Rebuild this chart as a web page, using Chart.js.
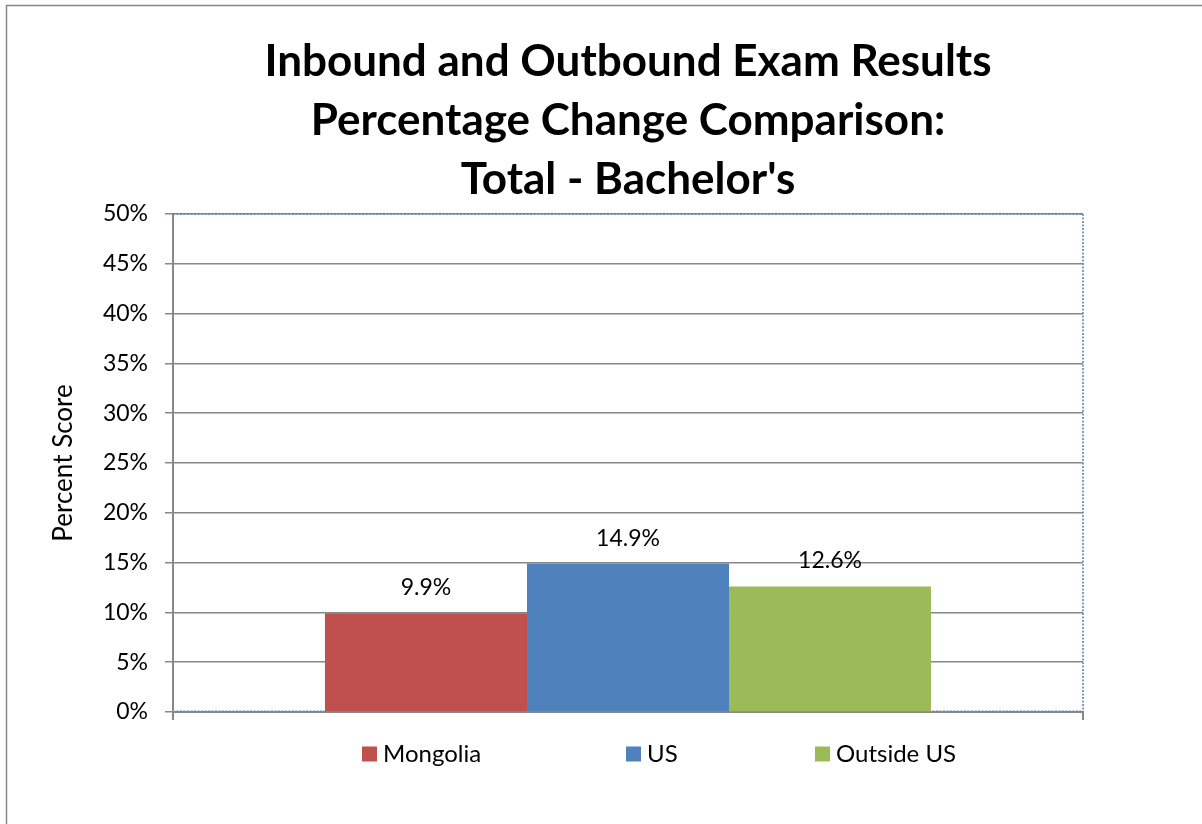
<!DOCTYPE html>
<html>
<head>
<meta charset="utf-8">
<script src="https://cdn.jsdelivr.net/npm/chart.js@4.4.1/dist/chart.umd.min.js"></script>
<style>
  html, body { margin: 0; padding: 0; background: #fff; }
  #wrap { width: 1202px; height: 824px; position: relative; }
</style>
</head>
<body>
<div id="wrap"><canvas id="c" width="1202" height="824"></canvas></div>
<script>
const categories = [''];
const seriesNames = ['Mongolia', 'US', 'Outside US'];
const mongolia = [9.9];
const us = [14.9];
const outsideUS = [12.6];
const seriesColors = ['#C0504D', '#4F81BD', '#9BBB59'];
const yTicks = [0, 5, 10, 15, 20, 25, 30, 35, 40, 45, 50];
const titleLines = ['Inbound and Outbound Exam Results', 'Percentage Change Comparison:', "Total - Bachelor's"];
const yTitle = 'Percent Score';

const FONT = 'Lato, "Open Sans", sans-serif';

const framePlugin = {
  id: 'frame',
  beforeDraw(chart) {
    const ctx = chart.ctx;
    ctx.save();
    ctx.fillStyle = '#fff';
    ctx.fillRect(0, 0, chart.width, chart.height);
    ctx.strokeStyle = '#888888';
    ctx.lineWidth = 1.5;
    ctx.beginPath();
    ctx.moveTo(6.5, chart.height);
    ctx.lineTo(6.5, 5.5);
    ctx.lineTo(chart.width, 5.5);
    ctx.stroke();
    ctx.restore();
  },
  beforeDatasetsDraw(chart) {
    const a = chart.chartArea, ctx = chart.ctx;
    ctx.save();
    ctx.strokeStyle = '#4F81BD';
    ctx.lineWidth = 1.5;
    ctx.setLineDash([2, 1.5]);
    ctx.beginPath();
    ctx.moveTo(a.left, a.top);
    ctx.lineTo(a.right, a.top);
    ctx.lineTo(a.right, a.bottom);
    ctx.stroke();
    ctx.strokeStyle = '#A9C4E4';
    ctx.lineWidth = 1;
    ctx.beginPath();
    ctx.moveTo(a.left, a.bottom - 1.5);
    ctx.lineTo(a.right, a.bottom - 1.5);
    ctx.stroke();
    ctx.restore();
  },
  afterDatasetsDraw(chart) {
    const ctx = chart.ctx;
    ctx.save();
    ctx.font = '23px ' + FONT;
    ctx.fillStyle = '#000';
    ctx.textAlign = 'center';
    ctx.textBaseline = 'alphabetic';
    chart.data.datasets.forEach((ds, i) => {
      const meta = chart.getDatasetMeta(i);
      meta.data.forEach((bar, j) => {
        ctx.fillText(ds.data[j].toFixed(1) + '%', bar.x, bar.y - 18);
      });
    });
    // legend
    const xs = chart.options.plugins.frame.legendX;
    const ly = chart.options.plugins.frame.legendY;
    ctx.font = '24px ' + FONT;
    ctx.textAlign = 'left';
    ctx.textBaseline = 'middle';
    chart.data.datasets.forEach((ds, i) => {
      ctx.fillStyle = ds.backgroundColor;
      ctx.fillRect(xs[i], ly - 7.5, 15, 15);
      ctx.fillStyle = '#000';
      ctx.fillText(ds.label, xs[i] + 21, ly);
    });
    ctx.restore();
  }
};

new Chart(document.getElementById('c'), {
  type: 'bar',
  data: {
    labels: categories,
    datasets: [
      { label: seriesNames[0], data: mongolia, backgroundColor: seriesColors[0] },
      { label: seriesNames[1], data: us, backgroundColor: seriesColors[1] },
      { label: seriesNames[2], data: outsideUS, backgroundColor: seriesColors[2] }
    ]
  },
  options: {
    responsive: false,
    animation: false,
    devicePixelRatio: 1,
    layout: { padding: { left: 8, right: 119, top: 22, bottom: 102 } },
    datasets: { bar: { categoryPercentage: 0.666, barPercentage: 1.0 } },
    plugins: {
      legend: { display: false },
      tooltip: { enabled: false },
      title: {
        display: true,
        fullSize: false,
        text: titleLines,
        color: '#000',
        font: { family: FONT, size: 44, weight: 'bold', lineHeight: 1.34 },
        padding: { top: 10, bottom: 5 }
      },
      frame: { legendX: [362, 626, 815], legendY: 754 }
    },
    scales: {
      x: {
        offset: true,
        grid: { display: true, drawOnChartArea: false, drawTicks: true, tickLength: 8, color: '#888888', lineWidth: 2 },
        border: { display: true, color: '#888888', width: 2 },
        ticks: { display: false },
        afterFit(s) { s.height = 10; }
      },
      y: {
        min: 0, max: 50,
        afterBuildTicks(s) { s.ticks = yTicks.map(v => ({ value: v })); },
        grid: { color: '#888888', lineWidth: 1.5, tickLength: 8 },
        border: { display: true, color: '#888888', width: 2 },
        ticks: {
          color: '#000', padding: 17,
          font: { family: FONT, size: 23 },
          callback: v => v + '%'
        },
        title: {
          display: true, text: yTitle, color: '#000',
          font: { family: FONT, size: 26 },
          padding: { top: 40, bottom: 0 }
        },
        afterFit(s) { s.width = 165; }
      }
    }
  },
  plugins: [framePlugin]
});
</script>
</body>
</html>
